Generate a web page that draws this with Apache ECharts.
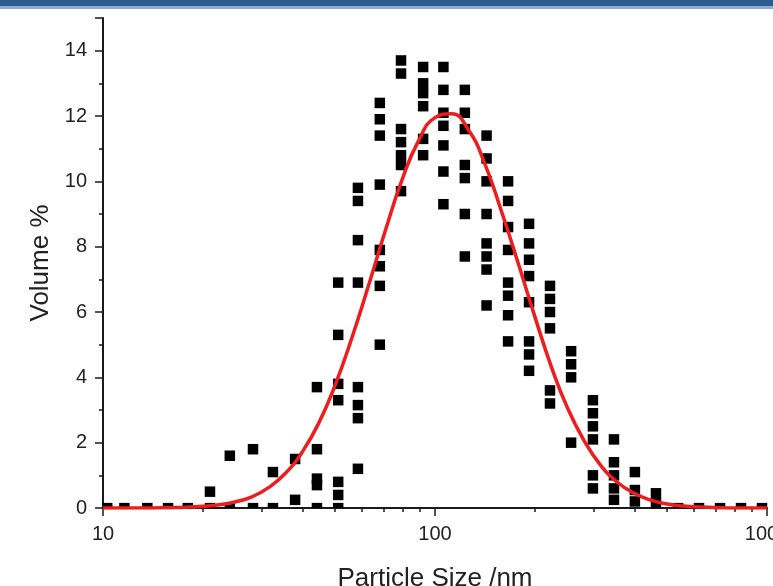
<!DOCTYPE html>
<html>
<head>
<meta charset="utf-8">
<script src="https://cdn.jsdelivr.net/npm/echarts@6/dist/echarts.min.js"></script>
<style>
  html, body { margin: 0; padding: 0; background: #fff; }
  #chart { width: 773px; height: 586px; }
</style>
</head>
<body>
<div id="chart"></div>
<script>
// particle sizes (nm) of each measured channel
const sizes = [10.3, 11.6, 13.6, 15.7, 18.0, 21.0, 24.1, 28.3, 32.5, 37.9, 44.1,
  51.1, 58.6, 68.2, 79.0, 92.1, 106, 123, 143, 166, 192, 222, 257, 299, 346,
  400, 463, 540, 624, 722, 835, 966];

// volume % readings per channel (repeat runs)
const volumes = [
  [0.08], [0.08], [0.08], [0.08], [0.08],
  [0.5, 0.08],
  [1.6, 0.08],
  [1.8, 0.08],
  [1.1, 0.08],
  [1.5, 0.25],
  [3.7, 1.8, 0.9, 0.7, 0.08],
  [6.9, 5.3, 3.8, 3.3, 0.8, 0.4, 0.08],
  [9.8, 9.4, 8.2, 6.9, 3.7, 3.15, 2.75, 1.2],
  [12.4, 11.9, 11.4, 9.9, 7.9, 7.4, 6.8, 5.0],
  [13.7, 13.3, 11.6, 11.2, 10.8, 10.5, 9.7],
  [13.5, 13.0, 12.7, 12.3, 11.3, 10.8],
  [13.5, 12.8, 12.1, 11.7, 11.1, 10.3, 9.3],
  [12.8, 12.1, 11.6, 10.5, 10.1, 9.0, 7.7],
  [11.4, 10.7, 10.0, 9.0, 8.1, 7.7, 7.3, 6.2],
  [10.0, 9.4, 8.6, 7.9, 6.9, 6.5, 5.9, 5.1],
  [8.7, 8.1, 7.6, 7.1, 6.3, 5.1, 4.7, 4.2],
  [6.8, 6.4, 6.0, 5.5, 3.6, 3.2],
  [4.8, 4.4, 4.0, 2.0],
  [3.3, 2.9, 2.5, 2.1, 1.0, 0.6],
  [2.1, 1.4, 1.0, 0.6, 0.25],
  [1.1, 0.55, 0.2],
  [0.45, 0.15],
  [0.08], [0.08], [0.08], [0.08], [0.08]
];

// fitted curve
const fitX = [10, 11.2, 12.6, 14.1, 15.8, 17.8, 20, 22.4, 25.1, 28.2, 31.6, 35.5,
  39.8, 44.7, 50.1, 56.2, 63.1, 70.8, 79.4, 89.1, 100, 112, 126, 141, 158, 178,
  200, 224, 251, 282, 316, 355, 398, 447, 501, 562, 631, 708, 794, 891, 1000];
const fitY = [0, 0, 0, 0, 0.01, 0.02, 0.05, 0.1, 0.19, 0.35, 0.63, 1.07, 1.71,
  2.61, 3.78, 5.21, 6.82, 8.48, 10.02, 11.23, 11.95, 12.07, 11.58, 10.56, 9.13,
  7.5, 5.85, 4.33, 3.05, 2.04, 1.3, 0.78, 0.45, 0.24, 0.12, 0.06, 0.03, 0.01, 0, 0, 0];

// minor ticks of the log axis
const minorTicks = [20, 30, 40, 50, 60, 70, 80, 90, 200, 300, 400, 500, 600, 700, 800, 900];

const points = [];
sizes.forEach((s, i) => volumes[i].forEach((v) => points.push([s, v])));

const axisColor = '#1a1a1a';
const font = 'Arial, "Liberation Sans", sans-serif';

const chart = echarts.init(document.getElementById('chart'));
chart.setOption({
  animation: false,
  backgroundColor: '#fff',
  graphic: [
    { type: 'rect', shape: { x: 0, y: 0, width: 773, height: 6 }, style: { fill: '#2c5a8c' } },
    { type: 'rect', shape: { x: 0, y: 6, width: 773, height: 3 }, style: { fill: '#8eabd4' } }
  ],
  grid: { left: 103, right: 6, top: 18, bottom: 78, outerBoundsMode: 'none', containLabel: false },
  xAxis: [
    {
      type: 'log',
      logBase: 10,
      min: 10,
      max: 1000,
      name: 'Particle Size /nm',
      nameLocation: 'middle',
      nameGap: 58,
      nameTextStyle: { fontFamily: font, fontSize: 26, color: '#222' },
      axisLine: { lineStyle: { color: axisColor, width: 2 } },
      axisTick: { inside: false, length: 8, lineStyle: { color: axisColor, width: 1.5 } },
      axisLabel: {
        fontFamily: font, fontSize: 20, color: '#222', margin: 16,
        formatter: (v) => String(Math.round(v))
      },
      splitLine: { show: false }
    },
    {
      type: 'value',
      position: 'bottom',
      min: 1,
      max: 3,
      axisLine: { show: true, lineStyle: { color: axisColor, opacity: 0 } },
      axisLabel: { show: false },
      axisTick: {
        show: true,
        length: 4,
        customValues: minorTicks.map((t) => Math.log10(t)),
        lineStyle: { color: axisColor, width: 1.5 }
      },
      splitLine: { show: false }
    }
  ],
  yAxis: {
    type: 'value',
    min: 0,
    max: 15,
    interval: 2,
    name: 'Volume %',
    nameLocation: 'middle',
    nameGap: 47,
    nameTextStyle: { fontFamily: font, fontSize: 26, color: '#222' },
    axisLine: { show: true, lineStyle: { color: axisColor, width: 2 } },
    axisTick: { show: true, inside: false, length: 8, lineStyle: { color: axisColor, width: 1.5 } },
    minorTick: { show: true, splitNumber: 2, length: 4, lineStyle: { color: axisColor, width: 1.5 } },
    axisLabel: { fontFamily: font, fontSize: 20, color: '#222', margin: 16, showMaxLabel: false },
    splitLine: { show: false }
  },
  series: [
    {
      type: 'scatter',
      xAxisIndex: 0,
      symbol: 'rect',
      symbolSize: (v) => (v[1] < 0.1 ? [10.5, 5] : 10.5),
      itemStyle: { color: '#000', opacity: 1 },
      data: points
    },
    {
      type: 'line',
      xAxisIndex: 0,
      smooth: true,
      showSymbol: false,
      lineStyle: { color: '#ee1c1c', width: 3.5 },
      data: fitX.map((x, i) => [x, fitY[i]])
    }
  ]
});
</script>
</body>
</html>
